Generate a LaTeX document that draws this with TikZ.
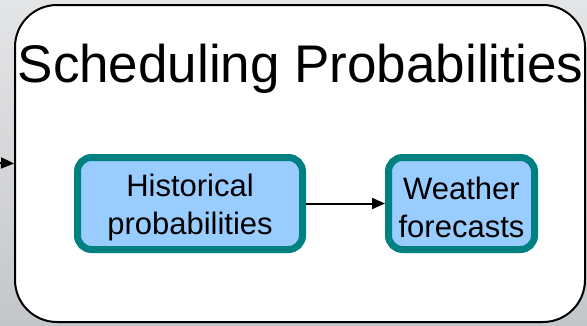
\documentclass[tikz,border=0pt]{standalone}
\usepackage{fontspec}
\setmainfont{Liberation Sans}
\usetikzlibrary{arrows.meta}
\definecolor{tealline}{RGB}{0,128,128}
\definecolor{boxblue}{RGB}{153,204,255}
\definecolor{bgtop}{RGB}{228,229,231}
\definecolor{bgbot}{RGB}{196,199,202}
\newcommand{\uplift}{\rule{0pt}{31pt}}
\begin{document}
\begin{tikzpicture}[x=1pt, y=-1pt,
    stage/.style={draw=tealline, line width=7pt, fill=boxblue, minimum width=#1, minimum height=92pt, rounded corners=14pt, inner sep=0pt, align=center, font=\fontsize{31}{38}\selectfont},
    arrow/.style={-{Triangle[length=13pt,width=11pt]}, line width=2pt}
]
    \useasboundingbox (0,0) rectangle (587,325);
    \shade[top color=bgtop, bottom color=bgbot] (0,0) rectangle (587,325);

    \node[draw, line width=2pt, fill=white, rounded corners=42pt, minimum width=570pt, minimum height=317pt] (panel) at (300,163.5) {};
    \node[anchor=base, font=\fontsize{53}{60}\selectfont, inner sep=0pt] (title) at (300.5,82) {Scheduling Probabilities};

    \node[stage=225pt] (hist) at (190,203.5) {\uplift Historical\\probabilities};
    \node[stage=146pt] (wthr) at (461.5,203.5) {\uplift Weather\\forecasts};
    \coordinate (feed) at (0,163);

    \draw[arrow] (feed) -- (panel.west);
    \draw[arrow] (hist) -- (wthr);
\end{tikzpicture}
\end{document}
